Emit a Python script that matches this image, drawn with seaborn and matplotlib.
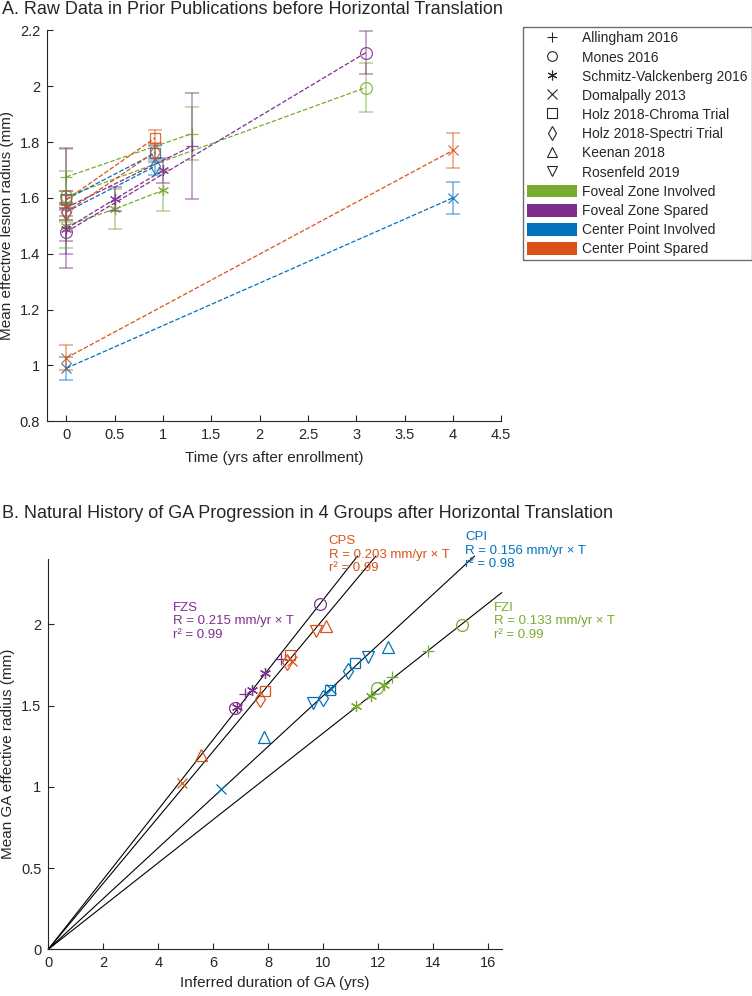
import numpy as np
import pandas as pd
import matplotlib
matplotlib.use('Agg')
import matplotlib.pyplot as plt
import seaborn as sns
from matplotlib.lines import Line2D
from matplotlib.patches import Patch
from matplotlib.ticker import FuncFormatter

sns.set_style('ticks')
plt.rcParams['font.family'] = ['Liberation Sans', 'DejaVu Sans']

# groups and studies
groups = ['Foveal Zone Involved', 'Foveal Zone Spared', 'Center Point Involved', 'Center Point Spared']
group_short = ['FZI', 'FZS', 'CPI', 'CPS']
group_colors = ['#77AC30', '#7E2F8E', '#0072BD', '#D95319']
studies = ['Allingham 2016', 'Mones 2016', 'Schmitz-Valckenberg 2016', 'Domalpally 2013',
           'Holz 2018-Chroma Trial', 'Holz 2018-Spectri Trial', 'Keenan 2018', 'Rosenfeld 2019']
study_markers = ['+', 'o', (6, 2, 0), 'x', 's', 'd', '^', 'v']
marker_sizes = [8, 8.5, 8, 7, 7, 8, 8.5, 8.5]

# panel A: raw data, one series per study x group
a_study = [0, 0, 1, 1, 2, 2, 3, 3, 4, 4, 5, 5]
a_group = [0, 1, 0, 1, 0, 1, 2, 3, 2, 3, 2, 3]
a_time = [[0, 1.3], [0, 1.3], [0, 3.1], [0, 3.1], [0, 0.5, 1.0], [0, 0.5, 1.0],
          [0, 4], [0, 4], [0, 0.92], [0, 0.92], [0, 0.92], [0, 0.92]]
a_radius = [[1.675, 1.83], [1.565, 1.785], [1.605, 1.995], [1.478, 2.12],
            [1.50, 1.56, 1.627], [1.49, 1.595, 1.698], [0.99, 1.60], [1.027, 1.77],
            [1.595, 1.76], [1.593, 1.815], [1.55, 1.713], [1.549, 1.765]]
a_err = [[0.10, 0.095], [0.215, 0.19], [0.09, 0.088], [0.08, 0.078],
         [0.08, 0.07, 0.073], [0.045, 0.043, 0.045], [0.042, 0.057], [0.045, 0.063],
         [0.03, 0.03], [0.03, 0.028], [0.03, 0.03], [0.03, 0.03]]

# panel B: translated data
b_group = [1, 1, 1, 1, 1, 1, 1,
           3, 3, 3, 3, 3, 3, 3, 3, 3,
           2, 2, 2, 2, 2, 2, 2, 2, 2, 2,
           0, 0, 0, 0, 0, 0, 0]
b_study = [1, 1, 2, 2, 2, 0, 0,
           3, 3, 6, 6, 4, 4, 5, 5, 7,
           3, 3, 6, 6, 7, 7, 5, 5, 4, 4,
           2, 2, 2, 1, 1, 0, 0]
b_T = [6.80, 9.90, 6.87, 7.41, 7.89, 7.14, 8.45,
       4.86, 8.88, 5.56, 10.10, 7.88, 8.80, 7.72, 8.67, 9.74,
       6.30, 10.28, 7.84, 12.36, 9.64, 11.64, 10.00, 10.90, 10.25, 11.17,
       11.20, 11.73, 12.20, 11.96, 15.06, 12.51, 13.82]
b_R = [1.484, 2.124, 1.49, 1.597, 1.703, 1.572, 1.786,
       1.026, 1.771, 1.198, 1.99, 1.592, 1.812, 1.539, 1.765, 1.956,
       0.987, 1.60, 1.305, 1.863, 1.518, 1.80, 1.545, 1.714, 1.597, 1.761,
       1.494, 1.56, 1.627, 1.607, 1.997, 1.675, 1.833]
slopes = [0.133, 0.215, 0.156, 0.203]
r2 = [0.99, 0.99, 0.98, 0.99]
label_T = [16.22, 4.55, 15.18, 10.2]
label_R = [2.14, 2.14, 2.575, 2.55]

fig = plt.figure(figsize=(7.52, 9.96), dpi=100)
ax1 = fig.add_axes([0.0625, 0.577, 0.604, 0.3926])
ax2 = fig.add_axes([0.0642, 0.0469, 0.603, 0.3916])

fmt = FuncFormatter(lambda v, p: '%g' % round(v, 2))
for ax in (ax1, ax2):
    sns.despine(ax=ax)
    for s in ('left', 'bottom'):
        ax.spines[s].set_color('#262626')
        ax.spines[s].set_linewidth(0.8)
    ax.tick_params(direction='in', length=4, width=0.8, color='#262626',
                   labelsize=10.5, labelcolor='#262626', pad=5)
    ax.xaxis.set_major_formatter(fmt)
    ax.yaxis.set_major_formatter(fmt)

# panel A
rows = []
for i in range(len(a_study)):
    for t, r in zip(a_time[i], a_radius[i]):
        rows.append({'series': i, 't': t, 'R': r, 'group': groups[a_group[i]]})
df_a = pd.DataFrame(rows)
sns.lineplot(data=df_a, x='t', y='R', hue='group', units='series', estimator=None,
             palette=dict(zip(groups, group_colors)), linestyle='--', lw=0.9,
             legend=False, ax=ax1)
for i in range(len(a_study)):
    c = group_colors[a_group[i]]
    s = a_study[i]
    ax1.errorbar(a_time[i], a_radius[i], yerr=a_err[i], fmt='none', ecolor=c,
                 alpha=0.5, capsize=5, elinewidth=1.2, capthick=1.2)
    ax1.plot(a_time[i], a_radius[i], ls='none', marker=study_markers[s],
             mec=c, mfc='none', ms=marker_sizes[s], mew=0.9, alpha=0.85)
ax1.set_xlim(-0.2, 4.5)
ax1.set_ylim(0.8, 2.2)
ax1.set_xticks(np.arange(0, 4.6, 0.5))
ax1.set_yticks(np.arange(0.8, 2.21, 0.2))
ax1.set_xlabel('Time (yrs after enrollment)', fontsize=11, color='#262626', labelpad=6)
ax1.set_ylabel('Mean effective lesion radius (mm)', fontsize=11, color='#262626')

# panel B
for g in range(4):
    tmax = min(2.42 / slopes[g], 16.5)
    tt = np.array([0, tmax])
    ax2.plot(tt, slopes[g] * tt, color='black', lw=0.8, clip_on=False)
for T, R, g, s in zip(b_T, b_R, b_group, b_study):
    ax2.plot(T, R, ls='none', marker=study_markers[s], mec=group_colors[g],
             mfc='none', ms=marker_sizes[s], mew=0.9)
for g in range(4):
    ax2.text(label_T[g], label_R[g],
             '%s\nR = %.3f mm/yr \u00d7 T\nr\u00b2 = %.2f' % (group_short[g], slopes[g], r2[g]),
             color=group_colors[g], fontsize=9.5, ha='left', va='top', clip_on=False)
ax2.set_xlim(0, 16.5)
ax2.set_ylim(0, 2.4)
ax2.set_xticks(np.arange(0, 17, 2))
ax2.set_yticks(np.arange(0, 2.1, 0.5))
ax2.set_xlabel('Inferred duration of GA (yrs)', fontsize=11, color='#262626')
ax2.set_ylabel('Mean GA effective radius (mm)', fontsize=11, color='#262626')

# legend
handles = [Line2D([], [], ls='none', marker=m, color='#262626', mfc='none', ms=7, mew=0.8)
           for m in study_markers]
handles += [Patch(facecolor=c, edgecolor='none') for c in group_colors]
fig.legend(handles, studies + groups, loc='upper left',
           bbox_to_anchor=(523 / 752, 1 - 27 / 996), fontsize=10,
           frameon=True, fancybox=False, edgecolor='#6e6e6e', framealpha=1,
           handlelength=3.6, handleheight=1.05, handletextpad=0.35,
           labelspacing=0.36, borderpad=0.3, borderaxespad=0)

fig.text(0.003, 1 - 10 / 996, 'A. Raw Data in Prior Publications before Horizontal Translation',
         fontsize=13, va='center', ha='left')
fig.text(0.003, 1 - 514 / 996, 'B. Natural History of GA Progression in 4 Groups after Horizontal Translation',
         fontsize=13, va='center', ha='left')

fig.savefig('out.png', dpi=100)
